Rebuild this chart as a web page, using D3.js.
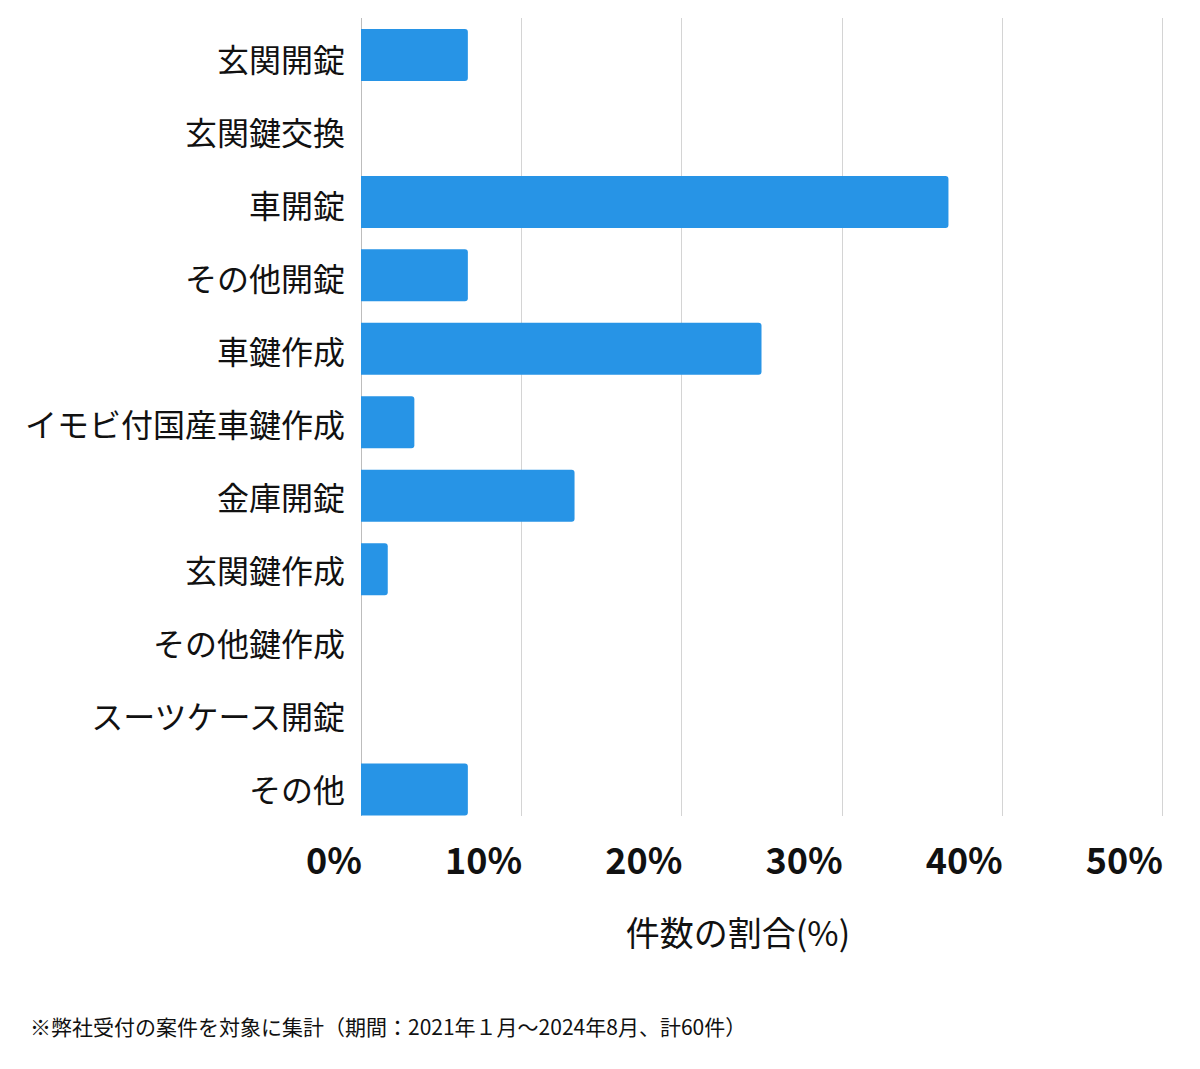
<!DOCTYPE html>
<html>
<head>
<meta charset="utf-8">
<script src="https://cdn.jsdelivr.net/npm/d3@7"></script>
<style>
  body { margin: 0; background: #fff; }
  text { font-family: "Noto Sans CJK JP", "Noto Sans", sans-serif; fill: #111; }
  .cat-label { font-size: 32px; font-weight: 400; }
  .tick-label { font-size: 36px; font-weight: 700; }
  .axis-title { font-size: 34px; }
  .note { font-size: 21px; }
  .grid-line { stroke: #d4d4d4; stroke-width: 1; }
</style>
</head>
<body>
<div id="wrapper"></div>
<script>
// categories, top to bottom
const categories = [
  "玄関開錠", "玄関鍵交換", "車開錠", "その他開錠", "車鍵作成",
  "イモビ付国産車鍵作成", "金庫開錠", "玄関鍵作成", "その他鍵作成",
  "スーツケース開錠", "その他"
];
// share of cases (%), out of 60
const shares = [6.67, 0, 36.67, 6.67, 25, 3.33, 13.33, 1.67, 0, 0, 6.67];
const xTicks = [0, 10, 20, 30, 40, 50];
const axisTitle = "件数の割合(%)";
const footnote = "※弊社受付の案件を対象に集計（期間：2021年１月〜2024年8月、計60件）";

function drawChart() {
  const dataset = categories.map((c, i) => ({ category: c, share: shares[i] }));
  const categoryAccessor = (d) => d.category;
  const shareAccessor = (d) => d.share;

  const dimensions = {
    width: 1200,
    height: 1069,
    margin: { top: 18, right: 38, bottom: 253, left: 361 },
  };
  dimensions.boundedWidth = dimensions.width - dimensions.margin.left - dimensions.margin.right;
  dimensions.boundedHeight = dimensions.height - dimensions.margin.top - dimensions.margin.bottom;

  const wrapper = d3.select("#wrapper")
    .append("svg")
    .attr("width", dimensions.width)
    .attr("height", dimensions.height);

  const bounds = wrapper.append("g")
    .attr("transform", `translate(${dimensions.margin.left},${dimensions.margin.top})`);

  const xScale = d3.scaleLinear()
    .domain([0, 50])
    .range([0, 801]);

  const yScale = d3.scaleBand()
    .domain(categories)
    .range([11, dimensions.boundedHeight - 0.5])
    .paddingInner(0.292)
    .paddingOuter(0);

  //? labels sit a touch lower than the bar centres at the top of the chart
  const labelScale = d3.scalePoint()
    .domain(categories)
    .range([42, 772]);

  // grid
  const gridGroup = bounds.append("g");
  gridGroup.selectAll("line")
    .data(xTicks)
    .join("line")
    .attr("class", "grid-line")
    .attr("x1", (d) => Math.round(xScale(d)) + 0.5)
    .attr("x2", (d) => Math.round(xScale(d)) + 0.5)
    .attr("y1", 0)
    .attr("y2", dimensions.boundedHeight)
    .style("stroke", (d) => d === 0 ? "#bdbdbd" : null);

  // bars with rounded right end
  const r = 3;
  const barPath = (d) => {
    const w = xScale(shareAccessor(d));
    const y = yScale(categoryAccessor(d));
    const h = yScale.bandwidth();
    const rr = Math.min(r, w);
    return `M0,${y}H${w - rr}Q${w},${y} ${w},${y + rr}V${y + h - rr}Q${w},${y + h} ${w - rr},${y + h}H0Z`;
  };
  bounds.append("g")
    .selectAll("path")
    .data(dataset.filter((d) => shareAccessor(d) > 0))
    .join("path")
    .attr("d", barPath)
    .attr("fill", "#2794e6");

  // category labels
  bounds.append("g")
    .selectAll("text")
    .data(dataset)
    .join("text")
    .attr("class", "cat-label")
    .attr("x", -16)
    .attr("y", (d) => labelScale(categoryAccessor(d)))
    .attr("dy", "0.36em")
    .attr("text-anchor", "end")
    .text(categoryAccessor);

  // x tick labels
  bounds.append("g")
    .selectAll("text")
    .data(xTicks)
    .join("text")
    .attr("class", "tick-label")
    .attr("x", (d) => xScale(d) + 1)
    .attr("y", 874 - dimensions.margin.top)
    .attr("text-anchor", "end")
    .text((d) => `${d}%`);

  // axis title
  bounds.append("text")
    .attr("class", "axis-title")
    .attr("x", 738 - dimensions.margin.left)
    .attr("y", 946 - dimensions.margin.top)
    .attr("text-anchor", "middle")
    .text(axisTitle);

  // footnote
  wrapper.append("text")
    .attr("class", "note")
    .attr("x", 30)
    .attr("y", 1035)
    .text(footnote);
}

drawChart();
</script>
</body>
</html>
